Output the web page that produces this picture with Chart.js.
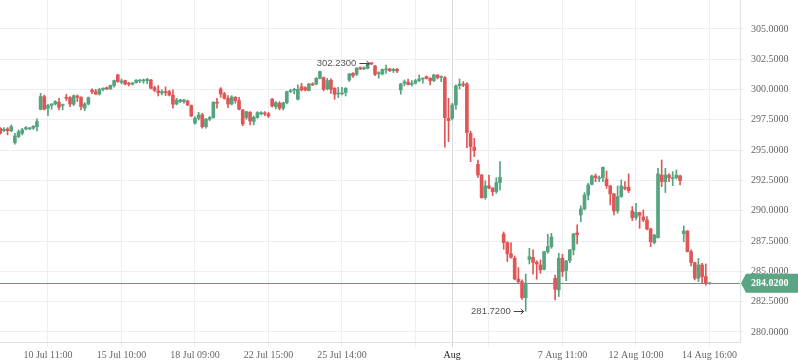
<!DOCTYPE html>
<html>
<head>
<meta charset="utf-8">
<script src="https://cdn.jsdelivr.net/npm/chart.js@4/dist/chart.umd.min.js"></script>
<style>
  html, body { margin: 0; padding: 0; background: #fff; }
  canvas { display: block; }
</style>
</head>
<body>
<canvas id="myChart" width="798" height="363"></canvas>
<script>
// candles, oldest first
const opens = [
  296.81,296.61,296.75,296.59,295.62,296.12,296.39,296.75,296.75,296.81,
  296.94,298.37,299.42,298.46,298.70,298.81,298.95,298.68,299.36,299.33,
  298.79,299.47,299.36,298.46,298.81,299.97,299.83,299.61,300.02,300.16,
  300.05,300.33,301.21,300.60,300.74,300.52,300.44,300.57,300.71,300.71,
  300.74,300.79,300.16,299.89,299.72,299.83,299.83,299.55,298.81,299.01,
  299.01,299.06,298.68,297.22,297.63,297.91,296.94,297.55,297.69,298.95,
  300.05,299.64,299.28,298.81,299.36,299.09,298.32,297.69,298.12,297.36,
  297.69,297.99,298.04,297.99,299.20,298.59,298.87,298.46,298.92,299.83,
  299.94,299.20,300.24,300.16,299.91,300.46,300.46,300.93,300.99,300.05,
  300.77,300.11,299.64,299.64,299.75,300.79,301.34,301.26,301.81,301.70,
  301.75,302.22,301.95,301.29,301.29,301.62,301.70,301.56,301.67,299.96,
  300.52,300.60,300.43,300.52,300.74,300.87,301.07,300.93,300.74,301.20,
  301.01,300.98,297.63,297.63,298.73,300.32,300.46,300.46,296.39,295.24,
  293.83,292.95,291.08,292.05,291.88,291.58,292.32,288.08,287.37,286.44,
  286.08,284.37,284.15,282.83,285.99,286.16,285.75,285.53,285.17,286.63,
  287.04,284.43,283.47,286.08,285.06,285.89,286.77,288.17,289.65,290.15,
  291.30,292.18,292.87,292.65,292.73,292.62,292.05,291.39,289.98,291.17,
  291.94,291.94,289.98,289.44,289.85,289.49,289.24,288.50,287.37,287.78,
  292.95,292.40,292.95,292.65,292.73,292.87,288.11,288.33,286.63,285.72,
  284.43,285.53,284.57,283.98
];
const highs = [
  296.86,296.86,296.86,297.08,296.39,296.67,296.81,296.94,296.89,297.03,
  297.58,299.69,299.55,298.79,298.84,299.09,299.28,298.81,299.61,299.42,
  299.55,299.55,299.42,298.92,299.39,300.05,300.02,300.11,300.14,300.22,
  300.38,300.79,301.26,300.88,300.79,300.60,300.60,300.82,300.82,300.88,
  300.93,300.85,300.27,300.33,299.97,300.22,299.94,299.97,299.28,299.20,
  299.20,299.12,298.73,297.77,298.12,298.04,297.63,297.77,299.01,299.28,
  300.16,299.78,299.50,299.50,299.42,299.36,298.35,298.21,298.18,297.82,
  298.18,298.18,298.18,298.12,299.28,299.01,299.01,298.95,299.88,300.02,
  300.11,300.38,300.52,300.24,300.52,300.57,300.99,301.53,301.04,300.93,
  300.88,300.16,300.19,300.19,300.16,301.34,301.40,301.81,301.87,301.87,
  302.18,302.23,302.00,301.48,301.70,302.03,301.75,301.75,301.75,300.52,
  300.79,300.87,300.74,300.85,301.20,300.95,301.12,300.98,301.26,301.23,
  301.12,301.07,299.28,298.87,300.38,300.87,300.65,300.57,296.58,295.98,
  294.19,293.00,292.46,292.95,291.90,292.73,294.05,288.25,287.45,287.37,
  286.27,285.31,284.29,284.78,286.90,286.77,285.88,285.94,286.65,288.06,
  288.14,284.70,286.49,286.41,285.90,286.80,288.14,288.83,290.40,291.50,
  292.27,292.95,293.04,292.87,293.60,293.28,292.10,291.44,292.05,292.54,
  292.40,293.04,290.34,290.62,289.87,290.07,289.52,288.55,288.06,293.50,
  294.19,293.50,293.04,293.23,293.37,292.95,288.75,288.36,286.77,285.75,
  286.08,285.67,285.61,284.05
];
const lows = [
  296.31,296.53,296.26,296.53,295.49,296.03,296.26,296.67,296.70,296.72,
  296.59,298.32,298.32,297.85,298.37,298.73,298.32,298.32,299.09,298.59,
  298.68,299.01,298.32,298.26,298.73,299.67,299.58,299.55,299.89,299.99,
  300.02,300.19,300.60,300.46,300.38,300.30,300.38,300.52,300.57,300.52,
  300.49,300.05,299.83,299.47,299.55,299.50,299.47,298.46,298.73,298.92,
  298.87,298.68,297.77,297.14,297.49,296.81,296.81,297.44,297.63,298.46,
  299.36,299.20,298.51,298.73,298.87,298.32,297.02,297.55,297.08,297.08,
  297.63,297.91,297.85,297.69,298.54,298.40,298.32,298.32,298.81,299.75,
  299.64,299.14,299.88,299.88,299.88,300.33,300.38,300.88,299.88,299.97,
  299.69,299.20,299.34,299.55,299.47,300.66,301.01,301.15,301.65,301.65,
  301.70,302.05,301.15,300.93,301.20,301.34,301.48,301.40,301.40,299.61,
  300.30,300.38,300.30,300.46,300.65,300.52,300.87,300.38,300.65,300.87,
  300.65,295.24,295.70,297.49,298.37,300.05,300.24,295.21,294.05,294.47,
  292.76,291.03,290.95,291.80,291.25,291.44,291.71,286.82,285.80,286.08,
  284.29,284.07,282.69,281.72,285.61,284.76,284.35,284.84,285.12,286.49,
  286.90,282.64,282.92,284.57,284.24,285.72,286.35,287.26,289.10,290.07,
  290.89,292.13,292.40,292.40,292.40,291.85,290.48,289.65,289.79,291.11,
  291.72,291.50,289.19,289.24,288.55,289.10,288.42,287.04,287.26,287.73,
  291.99,291.50,292.40,292.07,292.62,292.13,287.45,286.60,285.45,284.29,
  284.15,284.07,283.85,283.95
];
const closes = [
  296.39,296.72,296.61,296.94,296.17,296.53,296.67,296.86,296.83,296.97,
  297.36,299.42,298.37,298.68,298.81,299.01,298.54,298.73,299.28,298.81,
  299.50,299.36,298.59,298.81,299.33,299.83,299.64,300.02,300.11,300.05,
  300.35,300.74,300.66,300.71,300.46,300.44,300.52,300.77,300.79,300.79,
  300.85,300.11,299.94,299.75,299.83,299.75,299.55,298.79,299.14,299.14,
  299.14,298.73,297.82,297.63,297.91,296.94,297.55,297.69,298.95,298.87,
  299.64,299.28,298.81,299.39,299.09,298.37,297.16,298.18,297.41,297.71,
  298.10,298.10,297.99,297.82,298.65,298.92,298.46,298.92,299.83,299.91,
  299.99,300.02,299.97,299.97,300.46,300.38,300.93,301.48,300.02,300.74,
  300.02,299.61,299.72,299.72,300.11,301.29,301.15,301.76,301.70,301.81,
  302.11,302.11,301.26,301.40,301.67,301.70,301.56,301.67,301.53,300.46,
  300.65,300.41,300.52,300.74,300.87,300.93,300.93,300.74,301.20,300.98,
  301.07,297.68,297.43,298.73,300.30,300.46,300.38,296.45,295.29,294.96,
  292.95,291.08,292.05,291.88,291.58,292.32,292.76,287.37,286.44,286.16,
  284.37,284.15,282.83,284.02,286.21,285.75,285.61,285.12,286.63,287.04,
  287.84,283.52,286.08,284.98,285.86,286.77,288.09,288.03,290.15,291.30,
  292.13,292.87,292.73,292.71,293.59,292.07,291.39,289.98,291.17,292.05,
  291.85,291.66,289.44,289.85,289.63,289.24,288.50,287.45,288.00,293.04,
  292.40,292.95,292.73,292.71,292.95,292.49,288.33,286.63,285.72,284.43,
  285.53,284.57,284.02,284.02
];

// x axis: candle index of each tick and its label
const tickIdx  = [13, 33, 53, 73, 93, 113, 123, 133, 153, 173, 193];
const tickText = ["10 Jul 11:00", "15 Jul 10:00", "18 Jul 09:00", "22 Jul 15:00",
                  "25 Jul 14:00", "", "Aug", "", "7 Aug 11:00", "12 Aug 10:00", "14 Aug 16:00"];
const monthTick = 123;

const yTicks = [280, 282.5, 285, 287.5, 290, 292.5, 295, 297.5, 300, 302.5, 305];
const lastPrice = 284.02;
const highNote = { idx: 101, value: 302.23 };
const lowNote  = { idx: 143, value: 281.72 };

const UP = "#55a47f";
const DOWN = "#e05656";

const colors = opens.map((o, i) => (closes[i] >= o ? UP : DOWN));
const wicks = opens.map((o, i) => ({ x: i, y: [lows[i], highs[i]] }));
const bodies = opens.map((o, i) => ({ x: i, y: [o, closes[i]] }));

Chart.defaults.font.family = "'Liberation Serif', serif";
Chart.defaults.font.size = 10;
Chart.defaults.color = "#666";

const overlay = {
  id: "overlay",
  afterDatasetsDraw(chart) {
    const { ctx, chartArea, scales } = chart;
    const y = Math.round(scales.y.getPixelForValue(lastPrice)) + 0.5;
    ctx.save();
    ctx.strokeStyle = "#5a9e80";
    ctx.lineWidth = 1;
    ctx.beginPath();
    ctx.moveTo(chartArea.left, y);
    ctx.lineTo(chartArea.right, y);
    ctx.stroke();
    ctx.restore();
  },
  afterDraw(chart) {
    const { ctx, chartArea, scales } = chart;
    const y = scales.y.getPixelForValue(lastPrice);
    const r = chartArea.right;
    ctx.save();
    // last price tag
    ctx.fillStyle = "#5aa583";
    ctx.beginPath();
    ctx.moveTo(r + 1, y);
    ctx.lineTo(r + 6, y - 9.5);
    ctx.lineTo(chart.width, y - 9.5);
    ctx.lineTo(chart.width, y + 9.5);
    ctx.lineTo(r + 6, y + 9.5);
    ctx.closePath();
    ctx.fill();
    ctx.fillStyle = "#fff";
    ctx.font = "bold 10px 'Liberation Serif', serif";
    ctx.textBaseline = "middle";
    ctx.textAlign = "left";
    ctx.fillText(lastPrice.toFixed(4), r + 11, y + 0.5);

    // high / low notes
    ctx.font = "9.5px 'Liberation Sans', sans-serif";
    [highNote, lowNote].forEach(n => {
      const tx = scales.x.getPixelForValue(n.idx) - 2;
      const ty = Math.round(scales.y.getPixelForValue(n.value)) + 0.5;
      ctx.strokeStyle = "#444";
      ctx.lineWidth = 1;
      ctx.beginPath();
      ctx.moveTo(tx - 10, ty);
      ctx.lineTo(tx, ty);
      ctx.moveTo(tx - 3, ty - 2.5);
      ctx.lineTo(tx, ty);
      ctx.lineTo(tx - 3, ty + 2.5);
      ctx.stroke();
      ctx.fillStyle = "#555";
      ctx.textAlign = "right";
      ctx.textBaseline = "middle";
      ctx.fillText(n.value.toFixed(4), tx - 13, ty);
    });
    ctx.restore();
  }
};

const ctx = document.querySelector("#myChart");

const myChart = new Chart(ctx, {
  type: "bar",
  data: {
    datasets: [
      { data: wicks, backgroundColor: colors, barThickness: 1, grouped: false, order: 2 },
      { data: bodies, backgroundColor: colors, barThickness: 3, grouped: false, minBarLength: 1, order: 1 },
    ],
  },
  options: {
    animation: false,
    responsive: false,
    layout: { padding: 0 },
    scales: {
      x: {
        type: "linear",
        min: -0.05,
        max: 201.31,
        offset: false,
        grid: {
          offset: false,
          color: c => (c.tick && c.tick.value === monthTick ? "#d6d9dd" : "#eceef1"),
          tickLength: 5,
        },
        border: { color: "#dde0e4" },
        ticks: {
          autoSkip: false,
          maxRotation: 0,
          padding: 2,
          color: c => (c.tick && c.tick.value === monthTick ? "#222" : "#666"),
          callback: v => tickText[tickIdx.indexOf(v)] ?? "",
        },
        afterBuildTicks: s => { s.ticks = tickIdx.map(v => ({ value: v })); },
        afterFit: s => { s.height = 21; s.paddingLeft = 0; s.paddingRight = 0; },
      },
      y: {
        position: "right",
        min: 279.17,
        max: 307.39,
        grid: { color: "#eceef1", tickLength: 4 },
        border: { color: "#dde0e4" },
        ticks: {
          padding: 7,
          callback: v => v.toFixed(4),
        },
        afterBuildTicks: s => { s.ticks = yTicks.map(v => ({ value: v })); },
        afterFit: s => { s.width = 58; s.paddingTop = 0; s.paddingBottom = 0; },
      },
    },
    plugins: {
      legend: { display: false },
      tooltip: { enabled: false },
    },
  },
  plugins: [overlay],
});
</script>
</body>
</html>
